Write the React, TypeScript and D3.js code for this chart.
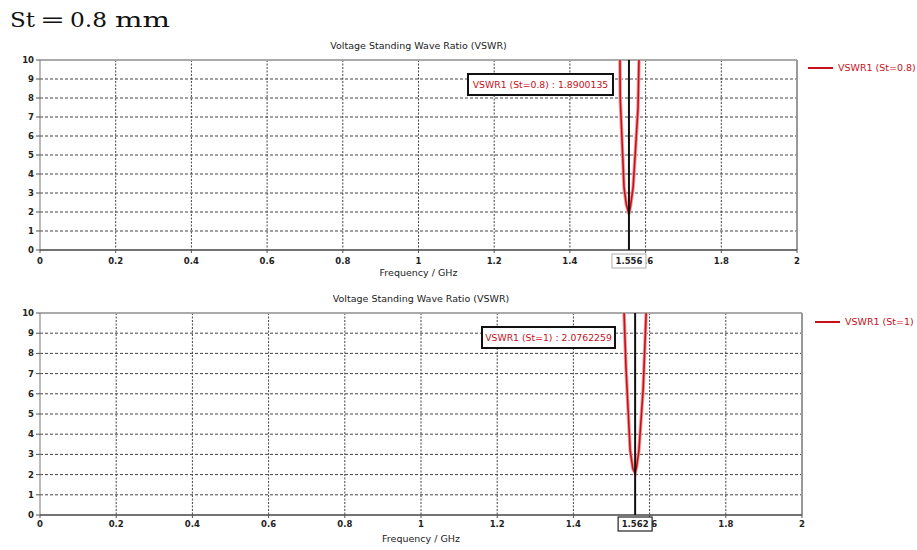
import React from 'react';
import * as d3 from 'd3';

// frequency ticks (GHz) and VSWR ticks
const xTicks = [0, 0.2, 0.4, 0.6, 0.8, 1, 1.2, 1.4, 1.6, 1.8, 2];
const xTickLabels = ['0', '0.2', '0.4', '0.6', '0.8', '1', '1.2', '1.4', '1.6', '1.8', '2'];
const yTicks = [0, 1, 2, 3, 4, 5, 6, 7, 8, 9, 10];

// St = 0.8 curve
const freqA = [1.5, 1.525, 1.532, 1.533, 1.543, 1.549, 1.556, 1.56, 1.567, 1.574, 1.58, 1.583, 1.59];
const vswrA = [30, 14, 10.5, 8, 3.3, 2.4, 1.89, 2.3, 3.3, 5.5, 7.5, 10.5, 16];
const markerA = 1.556;
const markerValueA = '1.8900135';

// St = 1 curve
const freqB = [1.5, 1.525, 1.533, 1.538, 1.549, 1.556, 1.562, 1.566, 1.572, 1.583, 1.591, 1.6];
const vswrB = [30, 14, 10, 7.3, 3.2, 2.3, 2.08, 2.4, 3.2, 6.2, 10, 16];
const markerB = 1.562;
const markerValueB = '2.0762259';

const font = '"DejaVu Sans", sans-serif';
const serif = '"DejaVu Serif", serif';
const red = '#c8101a';

type PanelProps = {
  id: string;
  freq: number[];
  vswr: number[];
  marker: number;
  markerValue: string;
  name: string;
  x0: number; x1: number; yTop: number; yBottom: number;
  titleY: number; tickY: number; labelY: number;
  legendX: number; legendY: number;
  boxX: number; boxY: number; boxW: number;
  markerBorder: string;
};

function Panel(p: PanelProps) {
  const x = d3.scaleLinear().domain([0, 2]).range([p.x0, p.x1]);
  const y = d3.scaleLinear().domain([0, 10]).range([p.yBottom, p.yTop]);
  const pts = p.freq.map((f, i) => [f, p.vswr[i]] as [number, number]);
  const line = d3.line<[number, number]>().x(d => x(d[0])).y(d => y(d[1]));
  const mx = x(p.marker);
  const midX = x(1);

  return (
    <g>
      <defs>
        <clipPath id={p.id}>
          <rect x={p.x0} y={p.yTop} width={p.x1 - p.x0} height={p.yBottom - p.yTop} />
        </clipPath>
      </defs>
      <text x={midX} y={p.titleY} fontSize={9.5} textAnchor="middle" fontFamily={font} fill="#222">
        Voltage Standing Wave Ratio (VSWR)
      </text>
      {/* grid */}
      {yTicks.slice(1, -1).map(t => (
        <line key={'gy' + t} x1={p.x0} x2={p.x1} y1={y(t)} y2={y(t)}
          stroke="#444" strokeWidth={1} strokeDasharray="3,2" />
      ))}
      {xTicks.slice(1, -1).map(t => (
        <line key={'gx' + t} x1={x(t)} x2={x(t)} y1={p.yTop} y2={p.yBottom}
          stroke="#444" strokeWidth={1} strokeDasharray="2,1.5" />
      ))}
      {/* frame */}
      <line x1={p.x0} x2={p.x1} y1={p.yTop} y2={p.yTop} stroke="#aaa" strokeWidth={2} />
      <line x1={p.x1} x2={p.x1} y1={p.yTop} y2={p.yBottom} stroke="#999" strokeWidth={2} />
      <line x1={p.x0} x2={p.x0} y1={p.yTop} y2={p.yBottom} stroke="#777" strokeWidth={1} />
      <line x1={p.x0} x2={p.x1} y1={p.yBottom} y2={p.yBottom} stroke="#444" strokeWidth={1.5} />
      {/* y axis */}
      {yTicks.map(t => (
        <g key={'yt' + t}>
          <line x1={p.x0 - 4} x2={p.x0} y1={y(t)} y2={y(t)} stroke="#555" />
          <text x={p.x0 - 6} y={y(t) + 3} fontSize={8.5} textAnchor="end" fontFamily={font} fill="#222" fontWeight="bold">{t}</text>
        </g>
      ))}
      {/* x axis */}
      {xTicks.map((t, i) => (
        <g key={'xt' + t}>
          <line x1={x(t)} x2={x(t)} y1={p.yBottom} y2={p.yBottom + 3} stroke="#555" />
          <text x={x(t)} y={p.tickY} fontSize={8.5} textAnchor="middle" fontFamily={font} fill="#222" fontWeight="bold">{xTickLabels[i]}</text>
        </g>
      ))}
      <text x={midX} y={p.labelY} fontSize={9.5} textAnchor="middle" fontFamily={font} fill="#222">Frequency / GHz</text>
      {/* curve */}
      <g clipPath={`url(#${p.id})`}>
        <path d={line(pts) || ''} fill="none" stroke="#ef9a9a" strokeWidth={3.5} />
        <path d={line(pts) || ''} fill="none" stroke={red} strokeWidth={1.6} />
      </g>
      {/* marker */}
      <line x1={mx} x2={mx} y1={p.yTop} y2={p.yBottom} stroke="#111" strokeWidth={2} />
      <rect x={mx - 17} y={p.tickY - 10} width={34} height={14} fill="#fff" stroke={p.markerBorder} strokeWidth={1.2} />
      <text x={mx} y={p.tickY} fontSize={8.5} textAnchor="middle" fontFamily={font} fill="#222" fontWeight="bold">{p.marker.toFixed(3)}</text>
      {/* annotation */}
      <rect x={p.boxX} y={p.boxY} width={p.boxW} height={21} fill="#fff" stroke="#111" strokeWidth={2} />
      <text x={p.boxX + p.boxW / 2} y={p.boxY + 14} fontSize={9.3} textAnchor="middle" fontFamily={font} fill={red}>
        {`${p.name} : ${p.markerValue}`}
      </text>
      {/* legend */}
      <line x1={p.legendX} x2={p.legendX + 25} y1={p.legendY} y2={p.legendY} stroke={red} strokeWidth={2} />
      <text x={p.legendX + 30} y={p.legendY + 3} fontSize={9.5} fontFamily={font} fill={red}>{p.name}</text>
    </g>
  );
}

export default function App() {
  return (
    <svg width={917} height={550} style={{ position: 'absolute', left: 0, top: 0, background: '#fff' }}>
      <rect width={917} height={550} fill="#fff" />
      <g fontSize={21} fontFamily={serif} fill="#111">
        <text x={10} y={27} textLength={25} lengthAdjust="spacingAndGlyphs">St</text>
        <text x={40} y={27} textLength={25} lengthAdjust="spacingAndGlyphs">=</text>
        <text x={70} y={27} textLength={37} lengthAdjust="spacingAndGlyphs">0.8</text>
        <text x={115} y={27} textLength={55} lengthAdjust="spacingAndGlyphs">mm</text>
      </g>
      <Panel id="clipA" freq={freqA} vswr={vswrA} marker={markerA} markerValue={markerValueA}
        name="VSWR1 (St=0.8)" x0={40} x1={797} yTop={60} yBottom={250}
        titleY={49} tickY={264} labelY={276} legendX={808} legendY={68}
        boxX={468} boxY={74} boxW={145} markerBorder="#bbb" />
      <Panel id="clipB" freq={freqB} vswr={vswrB} marker={markerB} markerValue={markerValueB}
        name="VSWR1 (St=1)" x0={40} x1={802} yTop={313} yBottom={515}
        titleY={302} tickY={527} labelY={542} legendX={815} legendY={322}
        boxX={482} boxY={327} boxW={133} markerBorder="#222" />
    </svg>
  );
}
